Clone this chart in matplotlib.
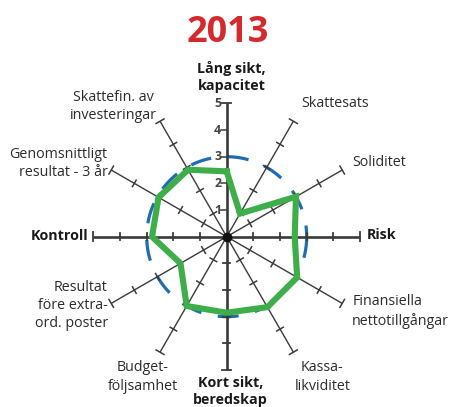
import numpy as np
import matplotlib
matplotlib.use("Agg")
import matplotlib.pyplot as plt

plt.rcParams['font.family'] = ['Open Sans', 'DejaVu Sans']
plt.rcParams['lines.scale_dashes'] = False

title = "2013"
categories = ["Lång sikt,\nkapacitet", "Skattesats", "Soliditet", "Risk",
              "Finansiella\nnettotillgångar", "Kassa-\nlikviditet", "Kort sikt,\nberedskap",
              "Budget-\nföljsamhet", "Resultat\nföre extra-\nord. poster", "Kontroll",
              "Genomsnittligt\nresultat - 3 år", "Skattefin. av\ninvesteringar"]
is_main = [True, False, False, True, False, False, True, False, False, True, False, False]
values = [2.45, 1.0, 3.0, 2.55, 3.05, 3.05, 2.85, 3.0, 2.0, 2.8, 2.95, 2.9]
scale_ticks = [1, 2, 3, 4, 5]
reference_level = 3

# label placement: offset from axis end in pixels (dx right, dy up), alignment
label_layout = [
    (4.7, 26.5, 'center'),
    (8.0, 17.4, 'left'),
    (10.4, 7.2, 'left'),
    (7.2, 2.0, 'left'),
    (10.0, -7.9, 'left'),
    (29.0, -24.7, 'center'),
    (3.8, -21.5, 'center'),
    (-17.0, -24.7, 'center'),
    (-3.4, -2.2, 'right'),
    (-5.2, 1.0, 'right'),
    (-3.7, 6.2, 'right'),
    (-46.7, 14.4, 'center'),
]

W, H = 449, 407
cx, cy = 226.7, 236.7
ppu = 26.67  # pixels per unit

fig = plt.figure(figsize=(W / 100, H / 100), dpi=100)
ax = fig.add_axes([0, 0, 1, 1])
ax.set_xlim(-cx / ppu, (W - cx) / ppu)
ax.set_ylim(-(H - cy) / ppu, cy / ppu)
ax.axis('off')

axis_col = '#3a3a3a'
n = len(categories)
rmax = scale_ticks[-1]
angles = np.deg2rad(90 - 30 * np.arange(n))

# reference dashed circle
th = np.deg2rad(np.linspace(-7, 353, 721))
ax.plot(reference_level * np.cos(th), reference_level * np.sin(th), color='#1f6cb0',
        lw=2.3, linestyle=(0, (15.1, 12.1)), zorder=2)

# axes with ticks
for i, a in enumerate(angles):
    main = is_main[i]
    lw = 1.9 if main else 1.0
    ca, sa = np.cos(a), np.sin(a)
    ax.plot([0, rmax * ca], [0, rmax * sa], color=axis_col, lw=lw, zorder=3,
            solid_capstyle='butt')
    px, py = -sa, ca  # perpendicular
    for r in scale_ticks:
        h = 0.17 if r == rmax else 0.14
        x0, y0 = r * ca, r * sa
        if i == 0 and r != rmax:
            ax.plot([x0, x0 - 0.2], [y0, y0], color=axis_col, lw=1.1, zorder=3)
        else:
            ax.plot([x0 - h * px, x0 + h * px], [y0 - h * py, y0 + h * py],
                    color=axis_col, lw=1.1 if not main else 1.3, zorder=3)

# scale numbers on the upward axis
for r in scale_ticks:
    ax.text(-0.2, r, str(r), ha='right', va='center', fontsize=8.8,
            fontweight='bold', color='#444444', zorder=4)

# center dot
ax.plot([0], [0], 'o', color='#111111', ms=6, zorder=5)

# data polygon
vals = np.array(values + values[:1])
ang = np.append(angles, angles[0])
ax.plot(vals * np.cos(ang), vals * np.sin(ang), color='#3dae49', lw=4.4,
        solid_joinstyle='miter', zorder=6)

# category labels
for i, (lab, a) in enumerate(zip(categories, angles)):
    dx, dy, ha = label_layout[i]
    ax.annotate(lab, xy=(rmax * np.cos(a), rmax * np.sin(a)),
                xytext=(dx * 0.72, dy * 0.72), textcoords='offset points',
                ha=ha, va='center', multialignment=ha, fontsize=10.3,
                fontweight='bold' if is_main[i] else 'normal',
                color='#1a1a1a' if is_main[i] else '#2b2b2b', linespacing=1.3,
                annotation_clip=False)

fig.text(227.5 / W, 1 - 29 / H, title, ha='center', va='center_baseline', fontsize=26,
         fontweight='bold', color='#d42a2e')

fig.savefig('out.png', dpi=100)
